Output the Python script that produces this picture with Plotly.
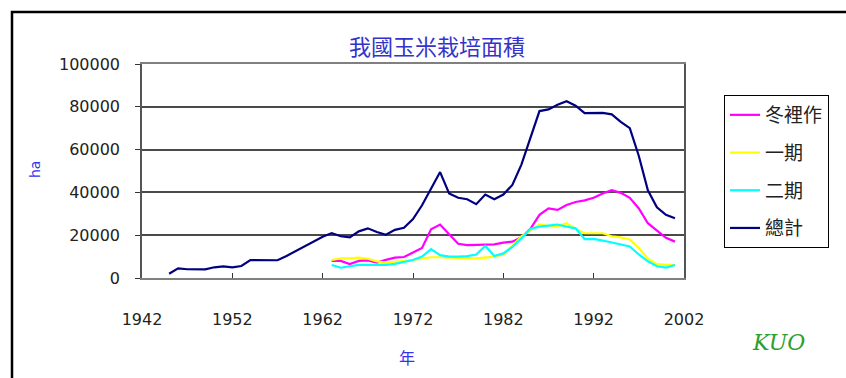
import plotly.graph_objects as go

# ---- data ----
total_years = list(range(1945, 2002))
total_vals = [2000, 4500, 4100, 4100, 4000, 5000, 5400, 5000, 5600, 8400,
              8300, 8100, 8300, 10300, 12500, 14700, 17000, 19300, 21000, 19500,
              19000, 21800, 23200, 21500, 20200, 22500, 23500, 27500, 34000, 42000,
              49500, 39500, 37500, 36800, 34500, 39000, 36800, 39000, 43500, 53000,
              65000, 78000, 78800, 81000, 82600, 80500, 77000, 77200, 77200, 76500,
              73000, 70000, 57000, 41000, 33000, 29500, 27900]

sub_years = list(range(1963, 2002))
winter_vals = [8000, 8000, 6500, 8000, 8200, 7200, 8500, 9500, 9800, 12000,
               14000, 22800, 25000, 20500, 16000, 15400, 15400, 15500, 15700, 16500,
               17000, 19000, 23000, 29500, 32500, 31800, 34100, 35500, 36300, 37500,
               39500, 41000, 39800, 37500, 32500, 25600, 22000, 18800, 17000]
first_vals = [8400, 9200, 9200, 9500, 9000, 7800, 7200, 7500, 7800, 8400,
              9200, 9700, 9700, 9500, 9200, 9200, 9200, 9600, 10000, 11000,
              15000, 19500, 22400, 25000, 24300, 24000, 25600, 23000, 20900, 20900,
              20900, 19500, 19000, 18000, 14000, 9000, 6500, 6100, 6100]
second_vals = [6100, 4800, 5500, 6100, 6100, 6100, 6100, 6600, 7500, 8400,
               10000, 13500, 10700, 10000, 10000, 10200, 11000, 15000, 10300, 11500,
               14500, 18500, 23000, 24000, 24500, 25000, 24000, 23200, 18200, 18300,
               17500, 16500, 15400, 14700, 11000, 7800, 5500, 4900, 6100]

series_names = ["冬裡作", "一期", "二期", "總計"]
series_colors = ["#FF00FF", "#FFFF00", "#00FFFF", "#000080"]
x_ticks = [1942, 1952, 1962, 1972, 1982, 1992, 2002]
y_ticks = [0, 20000, 40000, 60000, 80000, 100000]
y_ticklabels = ["0", "20000", "40000", "60000", "80000", "100000"]

title_text = "我國玉米栽培面積"

# ---- figure ----
W, H = 846, 378
L, R, T, B = 142, 684, 64, 278
pw, ph = R - L, B - T


def px(x):
    return (x - L) / pw


def py(y):
    return (B - y) / ph


fig = go.Figure()
data = [(sub_years, winter_vals), (sub_years, first_vals), (sub_years, second_vals),
        (total_years, total_vals)]
for i, ((xs, ys), name, col) in enumerate(zip(data, series_names, series_colors)):
    fig.add_trace(go.Scatter(x=xs, y=ys, mode="lines", name=name,
                             line=dict(color=col, width=2.2),
                             legendgroup=f"g{i}"))

tick_font = dict(family="DejaVu Sans", size=16, color="#222222")

fig.update_layout(
    width=W, height=H,
    margin=dict(l=L, r=W - R, t=T, b=H - B),
    paper_bgcolor="white", plot_bgcolor="white",
    showlegend=True,
    legend=dict(x=px(724), y=py(95), xanchor="left", yanchor="top",
                bgcolor="white", bordercolor="#000000", borderwidth=1,
                font=dict(family="Noto Sans CJK TC", size=19, color="#222222"),
                tracegroupgap=10, traceorder="grouped", entrywidth=130,
                entrywidthmode="pixels"),
    xaxis=dict(range=[1942, 2002], tickvals=x_ticks, ticktext=[str(v) for v in x_ticks],
               ticks="inside", ticklen=5, tickcolor="#333333",
               showgrid=False, zeroline=False,
               showline=True, linecolor="#808080", linewidth=1.5, mirror=True,
               tickfont=tick_font, ticklabelstandoff=26),
    yaxis=dict(range=[0, 100000], tickvals=y_ticks, ticktext=y_ticklabels,
               ticks="outside", ticklen=5, tickcolor="#333333",
               showgrid=True, gridcolor="#4a4a4a", gridwidth=1.8, zeroline=False,
               showline=True, linecolor="#555555", linewidth=1.5, mirror=True,
               tickfont=tick_font, ticklabelstandoff=12),
)

# outer frame (chart area border)
fig.add_shape(type="rect", xref="paper", yref="paper",
              x0=px(12), x1=px(852), y0=py(384), y1=py(12),
              line=dict(color="#000000", width=2.5), fillcolor="rgba(0,0,0,0)",
              layer="below")

fig.add_annotation(text=title_text, xref="paper", yref="paper",
                   x=px(437), y=py(45), showarrow=False,
                   xanchor="center", yanchor="middle",
                   font=dict(family="Noto Sans CJK TC", size=22, color="#3333CC"))
fig.add_annotation(text="ha", xref="paper", yref="paper",
                   x=px(35), y=py(170), showarrow=False, textangle=-90,
                   xanchor="center", yanchor="middle",
                   font=dict(family="DejaVu Sans", size=14, color="#3333EE"))
fig.add_annotation(text="年", xref="paper", yref="paper",
                   x=px(407), y=py(357), showarrow=False,
                   xanchor="center", yanchor="middle",
                   font=dict(family="Noto Sans CJK TC", size=16, color="#3333EE"))
fig.add_annotation(text="<i>KUO</i>", xref="paper", yref="paper",
                   x=px(778), y=py(342), showarrow=False,
                   xanchor="center", yanchor="middle",
                   font=dict(family="DejaVu Serif", size=22, color="#2E9E2E"))

fig.write_html("out.html")
